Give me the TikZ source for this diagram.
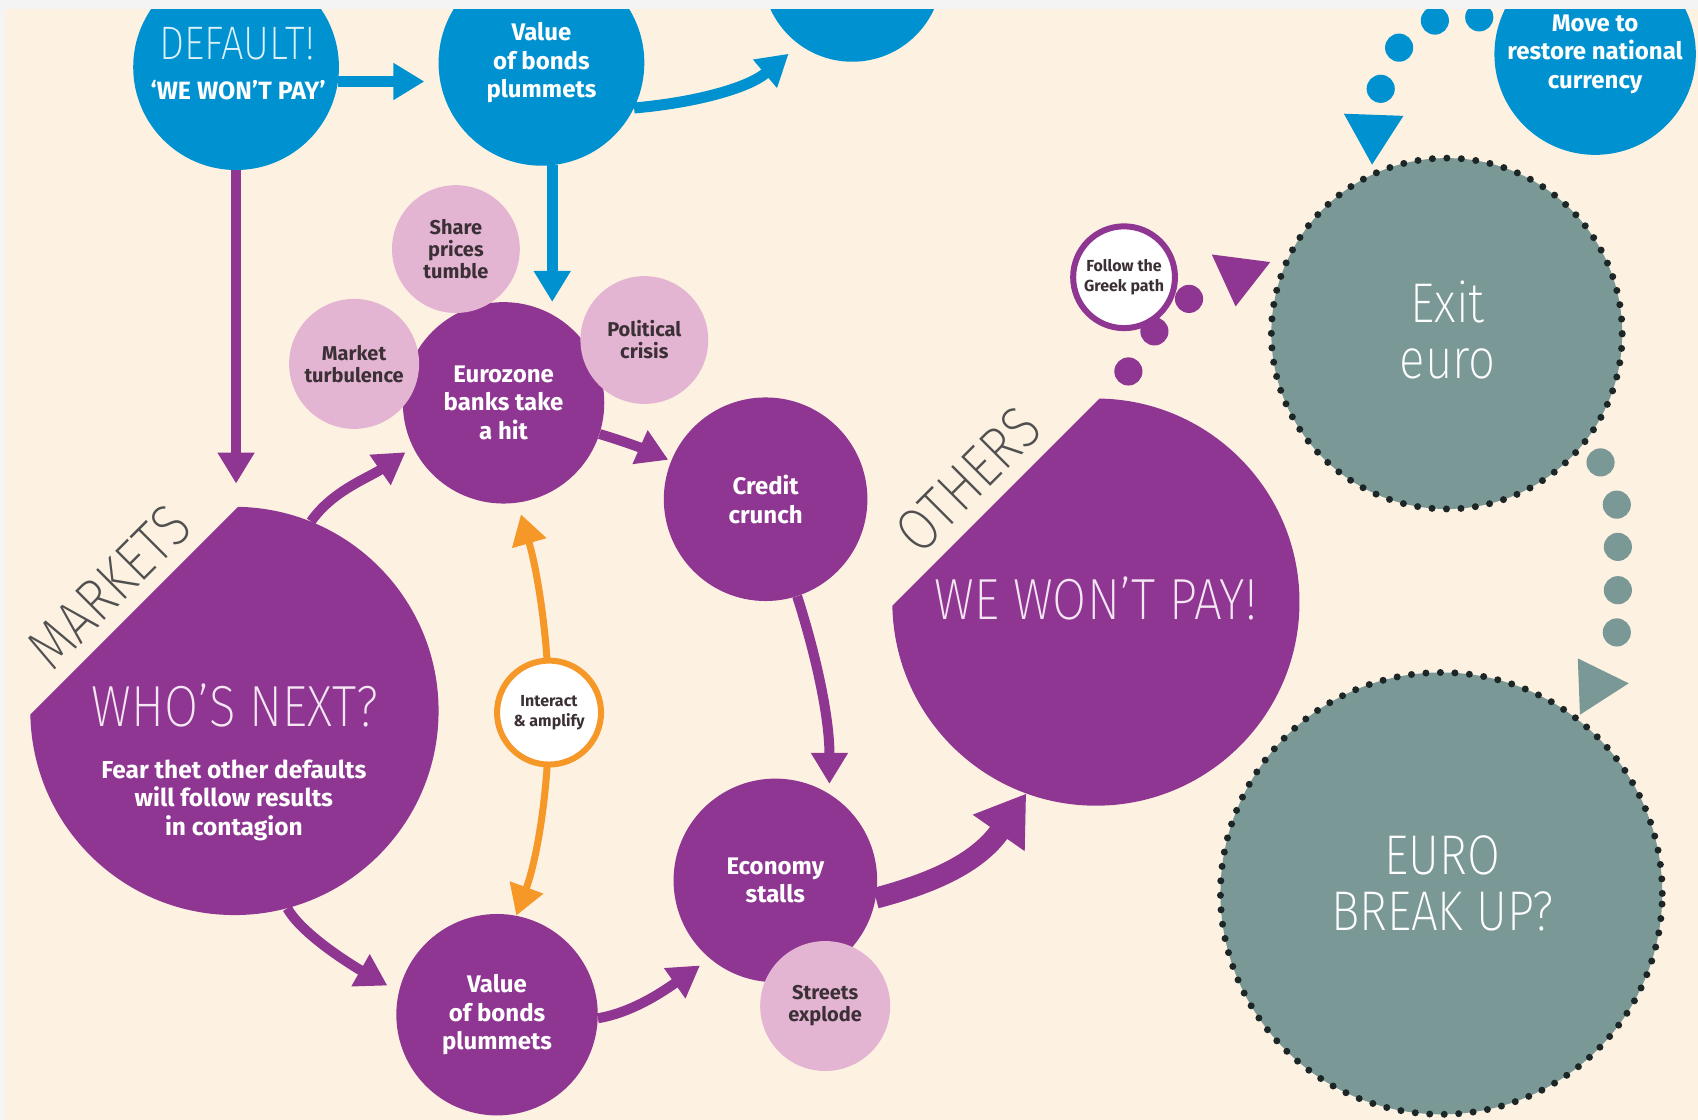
\documentclass[tikz,border=0pt]{standalone}
\usepackage{fontspec}
\setmainfont{Fira Sans}
\newfontfamily\boldface{Fira Sans}
\newfontfamily\lightface{Fira Sans ExtraLight}[FakeStretch=0.85]
\usetikzlibrary{arrows.meta}

\definecolor{paper}{HTML}{FDF1E2}
\definecolor{rim}{HTML}{F4F4F4}
\definecolor{ftblue}{HTML}{0092D0}
\definecolor{ftpurple}{HTML}{8E3691}
\definecolor{ftpink}{HTML}{E4B5D2}
\definecolor{ftorange}{HTML}{F59828}
\definecolor{ftteal}{HTML}{7A9996}
\definecolor{dotink}{HTML}{1C2626}
\definecolor{pinkink}{HTML}{3B3036}
\definecolor{labelink}{HTML}{505050}
\definecolor{softwhite}{HTML}{F4E6F2}
\definecolor{paleblue}{HTML}{DDF1FA}

\pgfdeclarelayer{backdrop}
\pgfdeclarelayer{links}
\pgfsetlayers{backdrop,links,main}

\tikzset{
  bubble/.style={circle, inner sep=0pt, minimum size=2.1658pt*#1, align=center},
  boldtext/.style 2 args={font=\boldface\bfseries\fontsize{#1}{#2}\selectfont},
  blueball/.style={bubble=#1, fill=ftblue, text=white, boldtext={24}{28.5}},
  purpleball/.style={bubble=#1, fill=ftpurple, text=white, boldtext={24}{28.5}},
  pinkball/.style={bubble=#1, fill=ftpink, text=pinkink, boldtext={20}{22}},
  tealball/.style={bubble=#1, fill=ftteal, draw=dotink, line width=7pt,
    dash pattern=on 0pt off 14.5pt, line cap=round},
  ringball/.style 2 args={bubble=#1, fill=white, draw=#2, line width=6pt,
    text=pinkink, boldtext={16}{19.5}},
  hiddenball/.style={bubble=#1},
  bigtitle/.style={inner sep=0pt, align=center, text=softwhite,
    font=\lightface\fontsize{58}{58}\selectfont},
  tealtext/.style={inner sep=0pt, align=center, text=white,
    font=\lightface\fontsize{56}{56}\selectfont},
  sidelabel/.style={inner sep=0pt, text=labelink, rotate=45,
    font=\lightface\fontsize{60}{60}\selectfont},
  link/.style={line width=11pt, -{Triangle[width=35pt,length=31pt]}},
  bluelink/.style={link, draw=ftblue},
  purplelink/.style={link, draw=ftpurple, line width=10pt},
  fatlink/.style={draw=ftpurple, line width=21pt, -{Triangle[width=60pt,length=48pt]}},
  amplify/.style={draw=ftorange, line width=7pt,
    {Triangle[width=34pt,length=30pt]}-{Triangle[width=34pt,length=30pt]}},
}

\begin{document}
\begin{tikzpicture}[x=1.0829pt, y=-1.0829pt]
\useasboundingbox (0,0) rectangle (1568,1034);

\begin{pgfonlayer}{backdrop}
  \fill[paper] (0,0) rectangle (1568,1034);
\end{pgfonlayer}

% the two cut discs: markets and others
\fill[ftpurple] (216.5,656.5) ++(-89:188.5)
  arc[start angle=-89, end angle=179, radius=188.5] -- cycle;
\node[hiddenball=188.5] (markets) at (216.5,656.5) {};
\fill[ftpurple] (1012,556) ++(-89:188)
  arc[start angle=-89, end angle=179, radius=188] -- cycle;
\node[hiddenball=188] (others) at (1012,556) {};

% blue discs along the top
\node[blueball=95] (default) at (218,62) {};
\node[blueball=95] (bonds1) at (500,58) {Value\\of bonds\\plummets};
\node[blueball=83] (topblue) at (787,-26) {};
\node[blueball=93] (move) at (1473,50) {Move to\\restore national\\currency};

% purple chain
\node[purpleball=93] (eurozone) at (465,372) {Eurozone\\banks take\\a hit};
\node[purpleball=94] (credit) at (707,461) {Credit\\crunch};
\node[purpleball=94] (econ) at (716,813) {Economy\\stalls};
\node[purpleball=93] (bonds2) at (459,937) {Value\\of bonds\\plummets};

% pink side effects
\node[pinkball=59] (share) at (421,230) {Share\\prices\\tumble};
\node[pinkball=60] (turb) at (327,336) {Market\\turbulence};
\node[pinkball=59] (polit) at (595,314) {Political\\crisis};
\node[pinkball=60] (streets) at (762,929) {Streets\\explode};

% outcomes
\node[tealball=162] (exit) at (1336,308) {};
\node[tealtext] (exittext) at (1337,305) {Exit\\euro};
\node[tealball=204] (breakup) at (1331,825) {};
\node[tealtext] (breakuptext) at (1332,816) {EURO\\BREAK UP?};

\node[ringball={47}{ftpurple}] (greek) at (1038,256) {Follow the\\Greek path};

% headings
\node[inner sep=0pt, text=paleblue, font=\lightface\fontsize{47}{47}\selectfont]
  (defaulthead) at (219,40) {DEFAULT!};
\node[inner sep=0pt, text=white, boldtext={25}{25}] (defaultsub) at (220,83) {‘WE WON’T PAY’};
\node[bigtitle] (whosnext) at (217,651) {WHO’S NEXT?};
\node[inner sep=0pt, align=center, text=white, boldtext={24.5}{28.5}] (fear) at (216,739)
  {Fear thet other defaults\\will follow results\\in contagion};
\node[bigtitle] (wontpay) at (1012,553) {WE WON’T PAY!};
\node[sidelabel] (marketslabel) at (101,542) {MARKETS};
\node[sidelabel] (otherslabel) at (894,443) {OTHERS};

% dotted trails
\foreach \p in {(1366,16),(1325,19),(1292,44),(1275,82)}
  \fill[ftblue] \p circle[radius=13];
\fill[ftblue] (1241,105) -- (1296,107) -- (1267,152) -- cycle;
\foreach \p in {(1098,276),(1066,306),(1042,343)}
  \fill[ftpurple] \p circle[radius=13];
\fill[ftpurple] (1119,235) -- (1173,242) -- (1141,283) -- cycle;
\foreach \p in {(1478,427),(1493,466),(1494,505),(1494,545),(1493,584)}
  \fill[ftteal] \p circle[radius=13];
\fill[ftteal] (1457,608) -- (1504,631) -- (1459,660) -- cycle;

% connectors
\begin{pgfonlayer}{links}
  \draw[bluelink, shorten >=14pt] (default.-8) -- (default.-8 -| bonds1.west);
  \draw[bluelink, shorten >=14pt] (bonds1.-26) .. controls (640,95) and (690,82) .. (topblue.-126);
  \draw[bluelink] (bonds1.-84) -- (bonds1.-84 |- eurozone.north);
  \draw[purplelink, shorten >=23pt] (default.south) -- (default.south |- markets.north);
  \draw[purplelink, shorten >=9pt] (markets.68) .. controls (307,453) and (341,441) .. (eurozone.206);
  \draw[purplelink, shorten >=3pt] (eurozone.-18) .. controls (578,408) and (598,416) .. (credit.158);
  \draw[purplelink, shorten >=10pt] (credit.-72) .. controls (752,600) and (766,660) .. (econ.58);
  \draw[fatlink] (econ.-10) .. controls (859,816) and (902,798) .. (others.-110);
  \draw[purplelink, shorten >=13pt] (markets.-75) .. controls (280,865) and (333,896) .. (bonds2.167);
  \draw[purplelink, shorten >=12pt] (bonds2.-2) .. controls (585,935) and (616,913) .. (econ.230);
  \draw[amplify, shorten <=12pt] (eurozone.-82) .. controls (497,530) and (507,595) .. (507,658)
    .. controls (507,725) and (497,790) .. (bonds2.79);
\end{pgfonlayer}

\node[ringball={48}{ftorange}] (interact) at (507,658) {Interact\\\& amplify};

% page rim
\fill[rim] (0,0) rectangle (1568,8);
\fill[rim] (0,0) rectangle (5,1034);
\end{tikzpicture}
\end{document}
